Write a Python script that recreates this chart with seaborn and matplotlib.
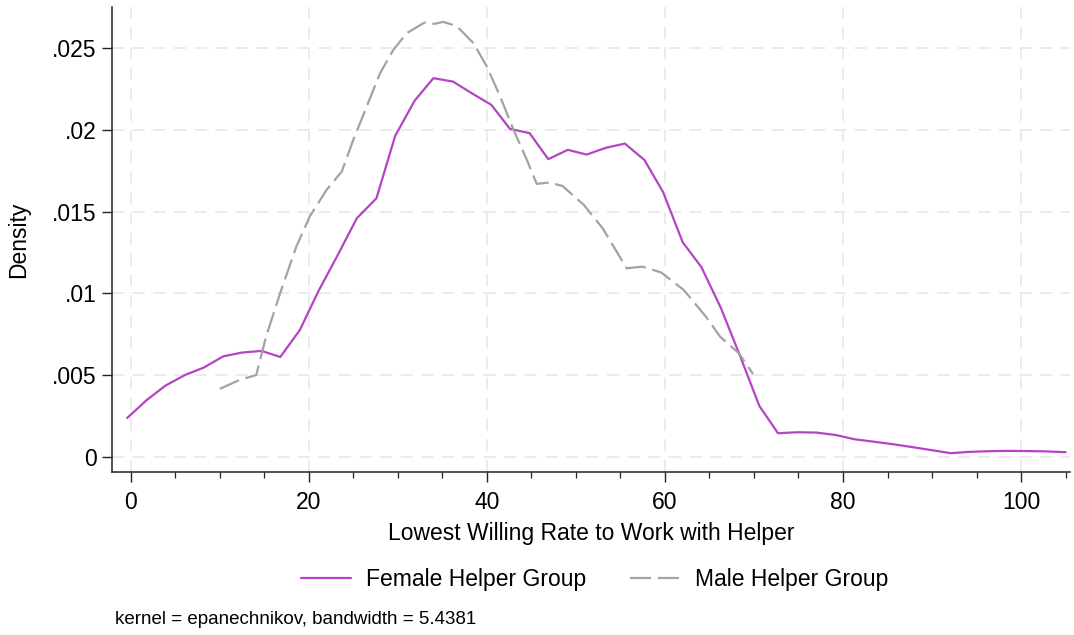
import numpy as np
import pandas as pd
import matplotlib
matplotlib.use("Agg")
import matplotlib.pyplot as plt
import seaborn as sns
from matplotlib.ticker import MultipleLocator, FixedLocator

# Kernel density estimates of the lowest willing rate, by helper group
female_x = [-0.4, 1.8, 3.9, 6.1, 8.2, 10.4, 12.5, 14.7, 16.8, 19.0,
            21.1, 23.3, 25.4, 27.6, 29.7, 31.9, 34.0, 36.2, 38.3, 40.5,
            42.6, 44.8, 46.9, 49.1, 51.2, 53.4, 55.5, 57.7, 59.8, 62.0,
            64.1, 66.3, 68.4, 70.6, 72.7, 74.9, 77.0, 79.2, 81.3, 83.5,
            85.6, 87.8, 89.9, 92.1, 94.2, 96.4, 98.5, 100.7, 102.8, 105.0]
female_y = [0.00238, 0.00348, 0.00436, 0.00501, 0.00546, 0.00615, 0.00638, 0.00648, 0.00611, 0.00776,
            0.01015, 0.01239, 0.01459, 0.01581, 0.01962, 0.02178, 0.02315, 0.02294, 0.02223, 0.02152,
            0.02005, 0.01979, 0.01820, 0.01877, 0.01848, 0.01890, 0.01915, 0.01815, 0.01618, 0.01312,
            0.01160, 0.00909, 0.00623, 0.00312, 0.00145, 0.00151, 0.00149, 0.00134, 0.00108, 0.00093,
            0.00078, 0.00060, 0.00042, 0.00023, 0.00031, 0.00035, 0.00037, 0.00036, 0.00034, 0.00029]

male_x = [10.0, 12.2, 14.1, 15.2, 16.9, 18.6, 20.1, 22.0, 23.7, 25.0,
          26.5, 28.0, 29.5, 31.0, 33.0, 34.1, 35.1, 36.6, 38.5, 40.0,
          41.5, 43.0, 44.5, 45.6, 47.0, 48.5, 50.9, 53.0, 55.7, 57.5,
          59.6, 62.1, 64.6, 66.2, 68.3, 69.9]
male_y = [0.00416, 0.00470, 0.00501, 0.00735, 0.01020, 0.01285, 0.01469, 0.01632, 0.01744, 0.01938,
          0.02141, 0.02345, 0.02488, 0.02590, 0.02655, 0.02647, 0.02659, 0.02634, 0.02529, 0.02386,
          0.02202, 0.01999, 0.01815, 0.01669, 0.01677, 0.01656, 0.01540, 0.01398, 0.01153, 0.01163,
          0.01127, 0.01021, 0.00858, 0.00735, 0.00634, 0.00507]

groups = ["Female Helper Group", "Male Helper Group"]
x_ticks = [0, 20, 40, 60, 80, 100]
y_ticks = [0, 0.005, 0.01, 0.015, 0.02, 0.025]
y_tick_labels = ["0", ".005", ".01", ".015", ".02", ".025"]

df = pd.concat([
    pd.DataFrame({"rate": female_x, "density": female_y, "group": groups[0]}),
    pd.DataFrame({"rate": male_x, "density": male_y, "group": groups[1]}),
], ignore_index=True)

sns.set_style("white")
plt.rcParams["font.family"] = ["Liberation Sans", "DejaVu Sans"]
plt.rcParams["text.color"] = "black"
plt.rcParams["axes.labelcolor"] = "black"
plt.rcParams["xtick.color"] = "black"
plt.rcParams["ytick.color"] = "black"

fig = plt.figure(figsize=(10.74, 6.35), dpi=100)
ax = fig.add_axes([0.1043, 0.2572, 0.892, 0.7318])

palette = {groups[0]: "#b444c4", groups[1]: "#a3a3a3"}
dashes = {groups[0]: "", groups[1]: (9.5, 3)}
sns.lineplot(data=df, x="rate", y="density", hue="group", style="group",
             palette=palette, dashes=dashes, linewidth=1.6, sort=False,
             estimator=None, ax=ax, legend=False)

ax.set_xlim(-2.1, 105.5)
ax.set_ylim(-0.0009, 0.0275)

ax.xaxis.set_major_locator(FixedLocator(x_ticks))
ax.xaxis.set_minor_locator(MultipleLocator(5))
ax.yaxis.set_major_locator(FixedLocator(y_ticks))
ax.set_yticklabels(y_tick_labels)

ax.tick_params(axis="both", which="major", length=7, width=1.0, color="#222222",
               labelsize=16.5, pad=4, bottom=True, left=True)
ax.tick_params(axis="x", which="minor", length=4, width=0.9, color="#222222", bottom=True)
ax.tick_params(axis="x", pad=7)

for side in ["top", "right"]:
    ax.spines[side].set_visible(False)
for side in ["left", "bottom"]:
    ax.spines[side].set_color("#222222")
    ax.spines[side].set_linewidth(1.1)

ax.grid(True, which="major", color="#e6e6e6", linestyle=(0, (8, 5.5)), linewidth=1.1)
ax.set_axisbelow(True)

ax.set_xlabel("Lowest Willing Rate to Work with Helper", fontsize=16.5, labelpad=6)
ax.set_ylabel("Density", fontsize=16.5, labelpad=16)

handles = ax.get_lines()[:2]
leg = fig.legend(handles, groups, loc="center", bbox_to_anchor=(0.5536, 0.088),
                 ncol=2, frameon=False, fontsize=16.5, handlelength=2.2,
                 columnspacing=1.9, handletextpad=0.65)

fig.text(0.107, 0.025, "kernel = epanechnikov, bandwidth = 5.4381", fontsize=13.5,
         ha="left", va="center")

fig.savefig("out.png", dpi=100, facecolor="white")
